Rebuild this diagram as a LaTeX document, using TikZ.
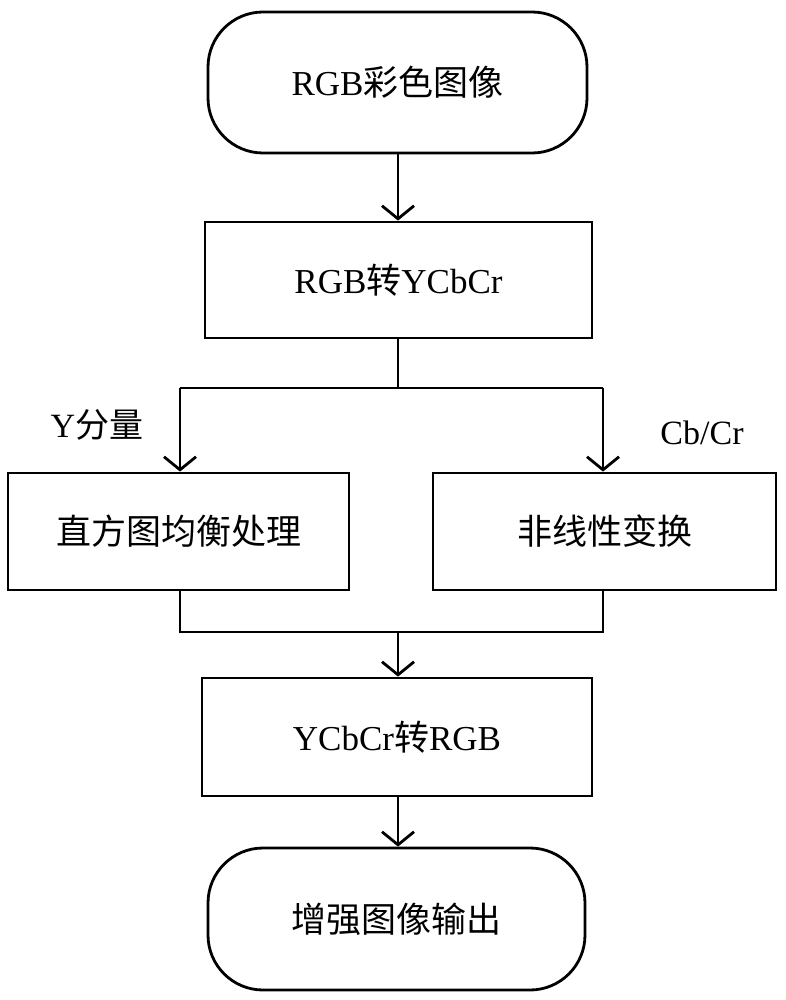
\documentclass[tikz,border=0pt]{standalone}
\usepackage{fontspec}
\setmainfont{Liberation Serif}
\newfontfamily\cjk{Noto Sans CJK SC}
\usetikzlibrary{arrows.meta}
\begin{document}
\begin{tikzpicture}[x=1pt,y=-1pt,
  boxline/.style={draw=black,line width=2.8pt},
  term/.style={boxline,rounded corners=55pt,inner sep=0pt,align=center,font=\fontsize{35}{40}\selectfont},
  proc/.style={boxline,inner sep=0pt,align=center,font=\fontsize{35}{40}\selectfont},
  conn/.style={draw=black,line width=2.2pt},
  arr/.style={conn,-{Straight Barb[length=13pt,width=32pt,line width=2.8pt]}},
  lbl/.style={inner sep=0pt,font=\fontsize{34}{38}\selectfont}]
\useasboundingbox (0,0) rectangle (785,1000);
\fill[white] (0,0) rectangle (785,1000);
\node[term,minimum width=379pt,minimum height=141pt] (t1) at (397.5,82.5) {RGB{\cjk 彩色图像}};
\node[proc,minimum width=387pt,minimum height=116pt] (b2) at (398.5,280) {RGB{\cjk 转}YCbCr};
\node[proc,minimum width=341pt,minimum height=117pt] (L) at (178.5,531.5) {\cjk 直方图均衡处理};
\node[proc,minimum width=343pt,minimum height=117pt] (R) at (604.5,531.5) {\cjk 非线性变换};
\node[proc,minimum width=390pt,minimum height=118pt] (b4) at (397,737) {YCbCr{\cjk 转}RGB};
\node[term,minimum width=377pt,minimum height=142pt] (t5) at (396.5,919) {\cjk 增强图像输出};
\node[lbl] (ly) at (97,425) {Y{\cjk 分量}};
\node[lbl] (lc) at (702,433) {Cb/Cr};
\coordinate (s) at (398,388);
\coordinate (sl) at (180,388);
\coordinate (sr) at (603,388);
\coordinate (m) at (398,632);
\coordinate (ml) at (180,632);
\coordinate (mr) at (603,632);
\draw[arr] (t1.south -| s) -- (b2.north -| s);
\draw[conn] (b2.south -| s) -- (s);
\draw[conn] (sl) -- (sr);
\draw[arr] (sl) -- (sl |- L.north);
\draw[arr] (sr) -- (sr |- R.north);
\draw[conn] (ml |- L.south) -- (ml) -- (mr) -- (mr |- R.south);
\draw[arr] (m) -- (m |- b4.north);
\draw[arr] (b4.south -| s) -- (t5.north -| s);
\end{tikzpicture}
\end{document}
